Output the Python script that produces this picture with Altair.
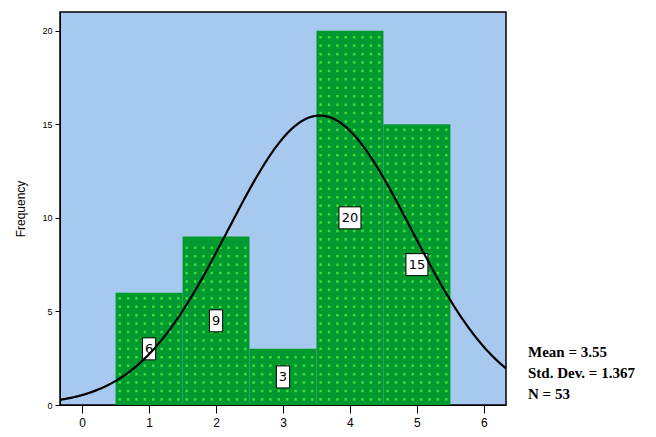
import altair as alt
import pandas as pd

# ---- data ----
values = [1, 2, 3, 4, 5]
counts = [6, 9, 3, 20, 15]
label_text = ["6", "9", "3", "20", "15"]
stats_lines = ["Mean = 3.55", "Std. Dev. = 1.367", "N = 53"]
mean_val = 3.55
sd_val = 1.367
n_val = 53

BLUE = "#A8C9EF"
GREEN = "#009A2E"
DOT = "#40DA40"

bars_df = pd.DataFrame({
    "value": values,
    "count": counts,
    "start": [v - 0.5 for v in values],
    "end": [v + 0.5 for v in values],
    "half": [c / 2 for c in counts],
    "text": label_text,
    "shape": ["M-0.6,-1H0.6V1H-0.6Z" if len(t) == 1 else "M-1,-1H1V1H-1Z" for t in label_text],
})
stats_df = pd.DataFrame({"line": stats_lines, "row": [0, 1, 2]})

xs = alt.Scale(domain=[-0.33, 6.33], nice=False, zero=False)
ys = alt.Scale(domain=[0, 21], nice=False)

base = alt.Chart(bars_df)

bars = base.mark_rect(color=GREEN).encode(
    x=alt.X("start:Q", scale=xs,
            axis=alt.Axis(values=[0, 1, 2, 3, 4, 5, 6], title=None, format="d",
                          tickSize=8, labelFontSize=12, labelPadding=4,
                          domainColor="black", tickColor="black", labelColor="black",
                          labelFont="Liberation Sans", grid=False)),
    x2="end:Q",
    y=alt.Y("count:Q", scale=ys,
            axis=alt.Axis(values=[0, 5, 10, 15, 20], title="Frequency",
                          tickSize=5, labelFontSize=9, labelPadding=3,
                          titleFontSize=12, titleFontWeight="normal", titlePadding=14,
                          titleFont="Liberation Sans", labelFont="Liberation Sans",
                          domainColor="black", tickColor="black", labelColor="black",
                          grid=False)),
    y2=alt.datum(0),
)

# dotted texture inside the bars (grid generated, clipped to each bar's height)
dots = alt.Chart(alt.sequence(0, 40 * 47, as_="i")).transform_calculate(
    col="datum.i % 40",
    row="floor(datum.i / 40)",
).transform_calculate(
    dx="0.5625 + datum.col * 0.125",
    dy="0.3 + datum.row * 0.45",
    value="floor(datum.col / 8) + 1",
).transform_lookup(
    lookup="value", from_=alt.LookupData(bars_df, key="value", fields=["count"])
).transform_filter("datum.dy < datum.count - 0.15").mark_square(
    color=DOT, size=6.5, opacity=1
).encode(x=alt.X("dx:Q", scale=xs), y=alt.Y("dy:Q", scale=ys))

boxes = base.mark_point(filled=True, fill="white", stroke="black", strokeWidth=1,
                        opacity=1, size=484).encode(
    x=alt.X("value:Q", scale=xs),
    y=alt.Y("half:Q", scale=ys),
    shape=alt.Shape("shape:N", scale=None),
)
labels = base.mark_text(fontSize=13, font="DejaVu Sans", color="black").encode(
    x=alt.X("value:Q", scale=xs),
    y=alt.Y("half:Q", scale=ys),
    text="text:N",
)

curve = alt.Chart(alt.sequence(-0.33, 6.335, 0.02, as_="cx")).transform_calculate(
    cy=f"{n_val} * exp(-0.5 * pow((datum.cx - {mean_val}) / {sd_val}, 2)) / ({sd_val} * sqrt(2 * PI))"
).mark_line(color="black", strokeWidth=2.2).encode(
    x=alt.X("cx:Q", scale=xs), y=alt.Y("cy:Q", scale=ys)
)

stats = alt.Chart(stats_df).transform_calculate(
    py="340 + datum.row * 21"
).mark_text(
    align="left", baseline="middle", fontSize=15, fontWeight="bold",
    font="Liberation Serif", color="black"
).encode(
    x=alt.value(468),
    y=alt.Y("py:Q", scale=None),
    text="line:N",
)

chart = alt.layer(bars, dots, boxes, labels, curve, stats).properties(
    width=446, height=393,
    background="white",
    padding={"left": 52, "top": 4, "right": 142, "bottom": 24},
    autosize=alt.AutoSizeParams(type="none"),
).configure_view(fill=BLUE, stroke="black", strokeWidth=1.5)

chart.save("out.html", embed_options={"renderer": "svg", "actions": False})
